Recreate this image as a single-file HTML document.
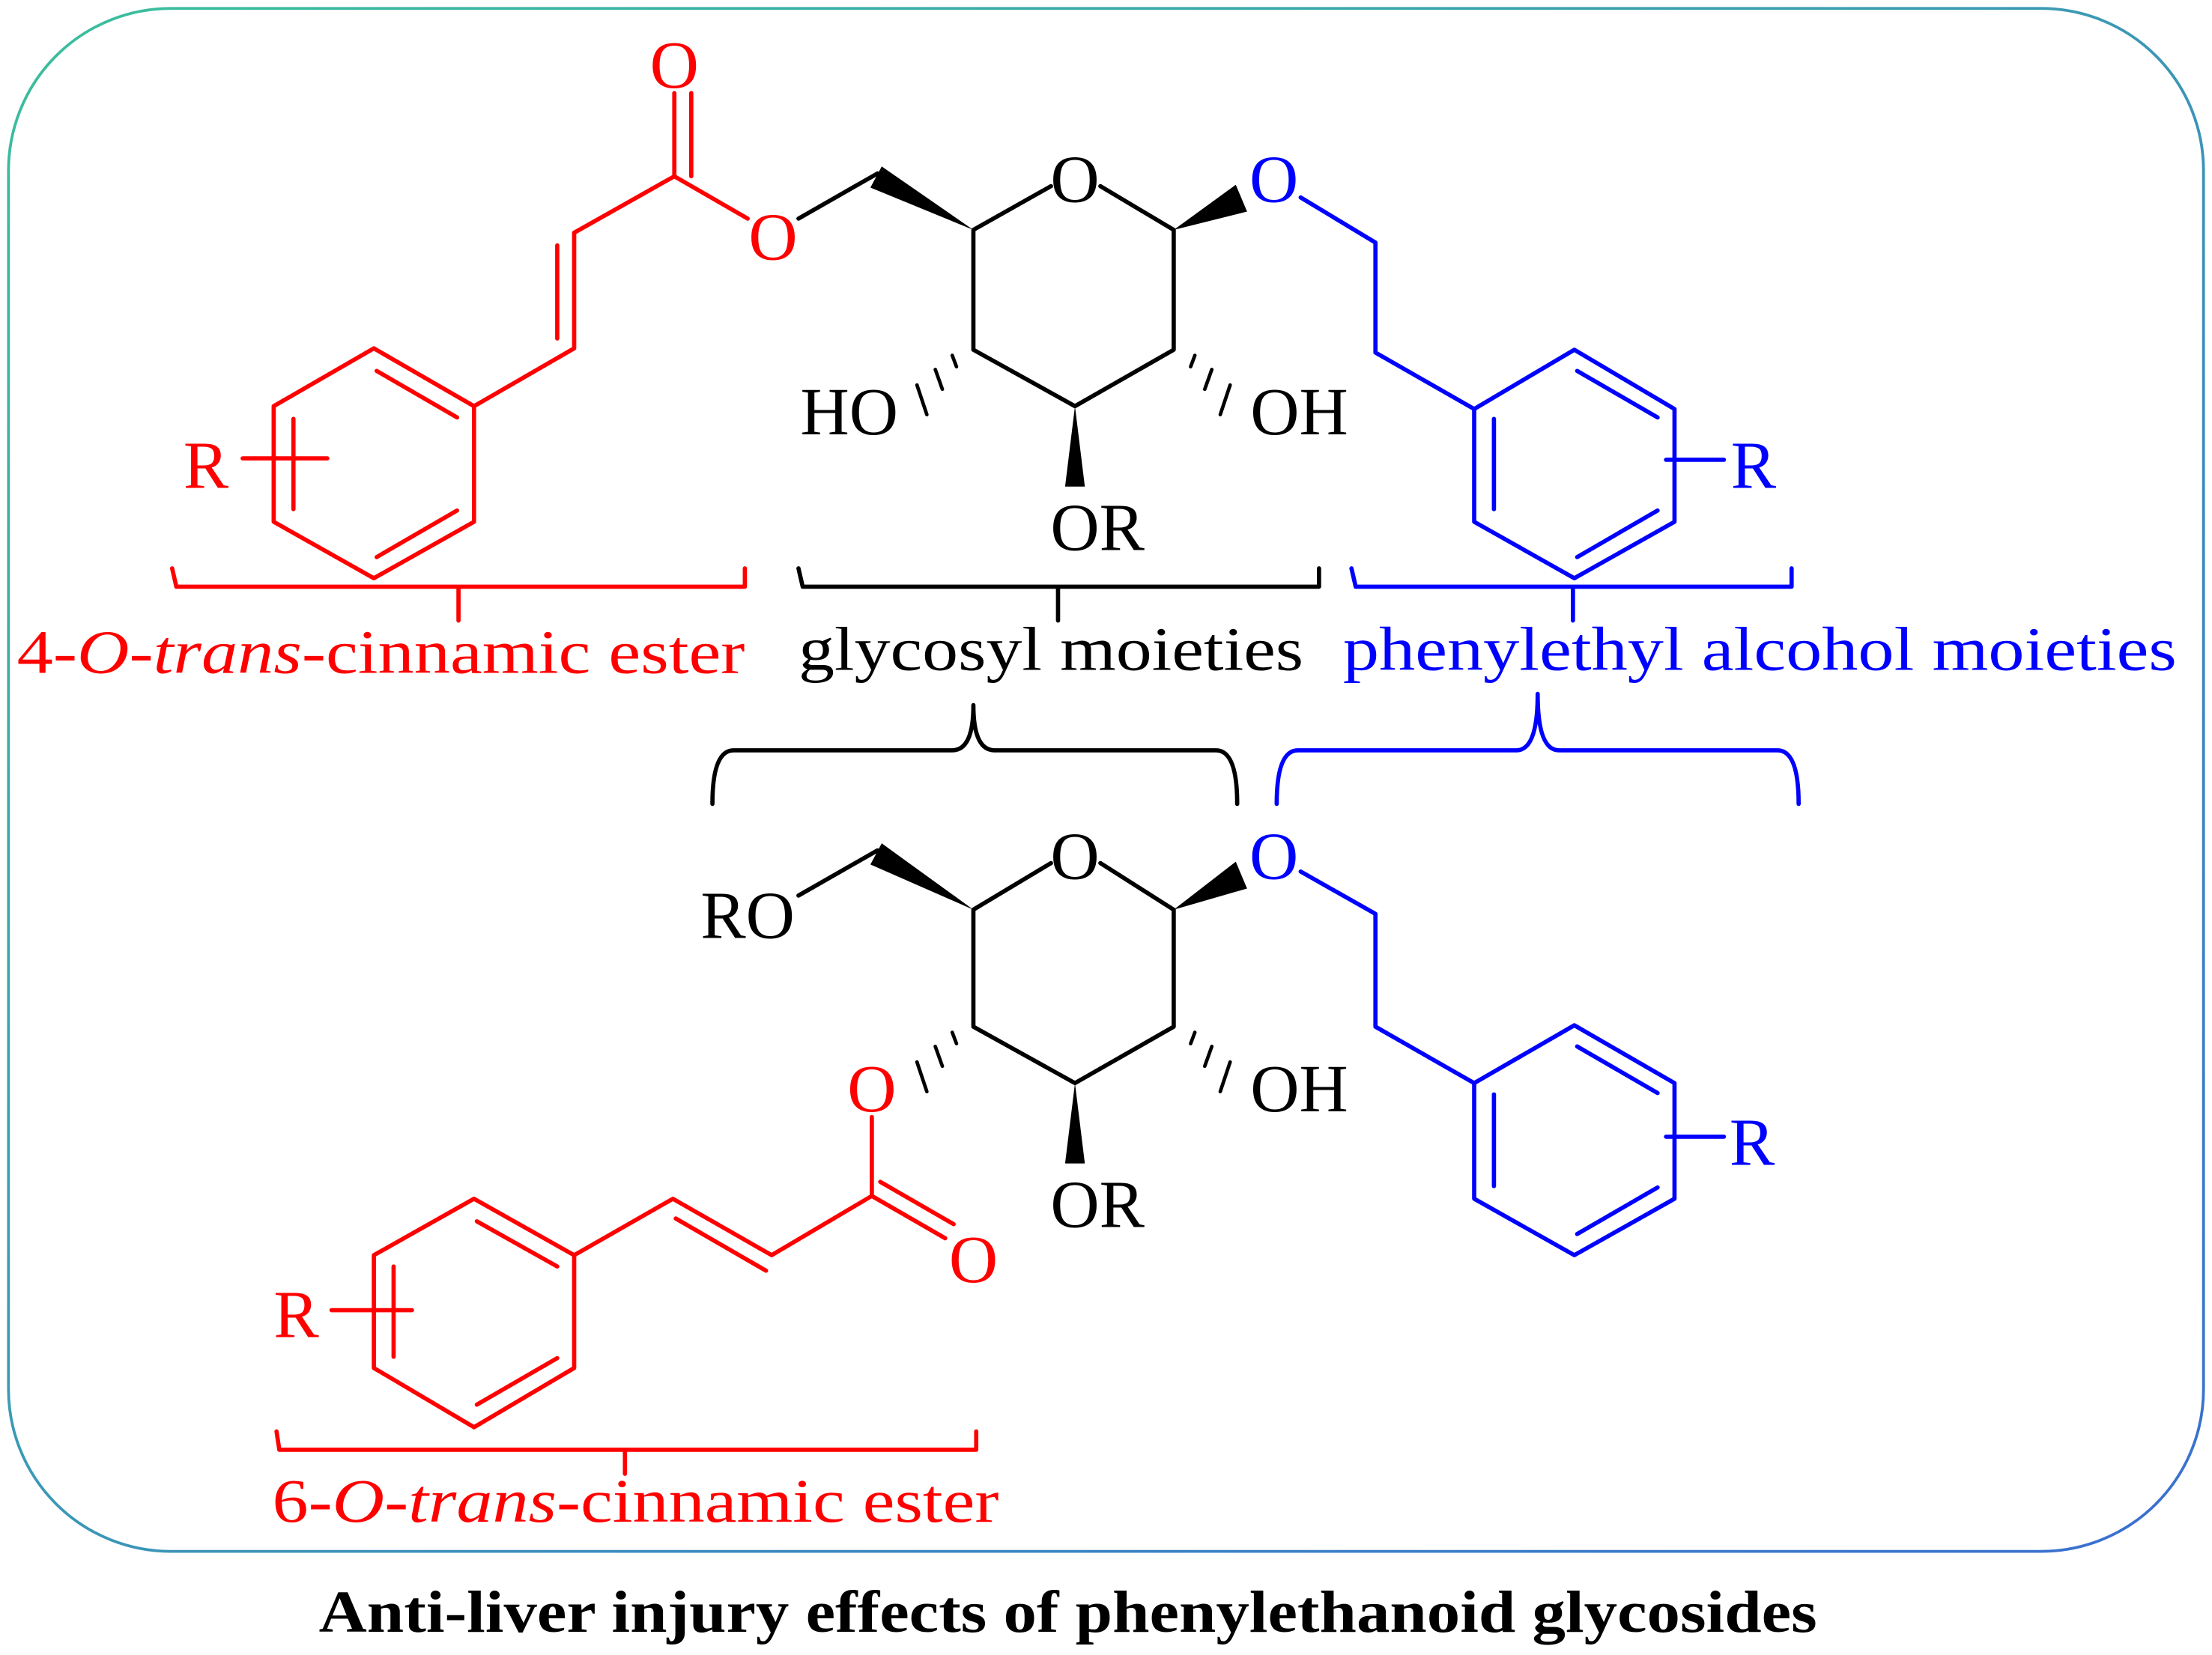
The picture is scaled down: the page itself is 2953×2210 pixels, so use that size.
<!DOCTYPE html>
<html><head><meta charset="utf-8"><style>
html,body{margin:0;padding:0;background:#fff;}
svg{display:block;}
svg text{font-family:"Liberation Serif","Times New Roman",Times,serif;}
</style></head><body>
<svg width="2953" height="2210" viewBox="0 0 1568 1173.5" xmlns="http://www.w3.org/2000/svg" font-family="Liberation Serif, Times New Roman, serif">
<defs>
<linearGradient id="bg" x1="0" y1="0" x2="1" y2="1">
<stop offset="0" stop-color="#3cbf9c"/><stop offset="1" stop-color="#3a6fd0"/>
</linearGradient>
</defs>
<rect x="6" y="6" width="1556" height="1094" rx="115" ry="115" fill="none" stroke="url(#bg)" stroke-width="2"/>

<g stroke-width="3" fill="none" stroke-linecap="round" stroke-linejoin="round">
<g stroke="#f00">
<polygon points="265,247 336,288 336,370 265,410 194,370 194,288"/>
<line x1="267" y1="263" x2="324" y2="296"/>
<line x1="208" y1="297" x2="208" y2="361"/>
<line x1="267" y1="395" x2="324" y2="362"/>
<line x1="172" y1="325" x2="232" y2="325"/>
<polyline points="336,288 407,247 407,165 478,125 530,155"/>
<line x1="395" y1="240" x2="395" y2="174"/>
<line x1="478" y1="125" x2="478" y2="66"/>
<line x1="490" y1="125" x2="490" y2="66"/>
</g>
<g stroke="#000">
<line x1="566" y1="155" x2="622" y2="123"/>
<polyline points="745,132 690,163 690,248 762,288 832,248 832,163 780,132"/>
<g stroke-width="2.5"><line x1="678" y1="260" x2="675" y2="252"/><line x1="668" y1="276" x2="663" y2="262"/><line x1="657" y1="294" x2="650" y2="273"/></g>
<g stroke-width="2.5"><line x1="844" y1="260" x2="847" y2="252"/><line x1="854" y1="276" x2="859" y2="262"/><line x1="865" y1="294" x2="872" y2="273"/></g>
<line x1="566" y1="635" x2="622" y2="603"/>
<polyline points="745,612 690,645 690,728 762,768 832,728 832,645 780,612"/>
<g stroke-width="2.5"><line x1="844" y1="740" x2="847" y2="732"/><line x1="854" y1="756" x2="859" y2="742"/><line x1="865" y1="774" x2="872" y2="753"/></g>
<g stroke-width="2.5"><line x1="678" y1="740" x2="675" y2="732"/><line x1="668" y1="756" x2="663" y2="742"/><line x1="657" y1="774" x2="650" y2="753"/></g>
</g>
<g stroke="#00f">
<polyline points="922,140 975,172 975,250 1045,290"/>
<polygon points="1045,290 1116,248 1187,290 1187,370 1116,410 1045,370"/>
<line x1="1118" y1="263" x2="1175" y2="296"/>
<line x1="1059" y1="297" x2="1059" y2="361"/>
<line x1="1118" y1="395" x2="1175" y2="362"/>
<line x1="1181" y1="326" x2="1222" y2="326"/>
<polyline points="922,618 975,648 975,728 1045,768"/>
<polygon points="1045,768 1116,727 1187,768 1187,850 1116,890 1045,850"/>
<line x1="1118" y1="742" x2="1175" y2="775"/>
<line x1="1059" y1="776" x2="1059" y2="841"/>
<line x1="1118" y1="875" x2="1175" y2="842"/>
<line x1="1181" y1="806" x2="1222" y2="806"/>
</g>
<g stroke="#f00">
<line x1="618" y1="792" x2="618" y2="848"/>
<line x1="618" y1="848" x2="670" y2="878"/>
<line x1="624" y1="838" x2="676" y2="868"/>
<polyline points="618,848 547,890 477,850 407,890"/>
<line x1="479" y1="864" x2="543" y2="901"/>
<polygon points="336,850 407,890 407,970 336,1012 265,970 265,890"/>
<line x1="338" y1="866" x2="395" y2="898"/>
<line x1="279" y1="898" x2="279" y2="962"/>
<line x1="338" y1="996" x2="395" y2="963"/>
<line x1="235" y1="929" x2="292" y2="929"/>
</g>
<path stroke="#f00" d="M122,403 L125,416 L528,416 L528,403 M325,416 L325,440"/>
<path stroke="#000" d="M566,403 L569,416 L935,416 L935,403 M750,416 L750,440"/>
<path stroke="#00f" d="M958,403 L961,416 L1270,416 L1270,403 M1115,416 L1115,440"/>
<path stroke="#000" d="M505,570 Q505,532 520,532 L675,532 Q690,532 690,500 Q690,532 705,532 L862,532 Q877,532 877,570"/>
<path stroke="#00f" d="M905,570 Q905,532 920,532 L1075,532 Q1090,532 1090,492 Q1090,532 1105,532 L1260,532 Q1275,532 1275,570"/>
<path stroke="#f00" d="M196,1015 L198,1028 L692,1028 L692,1015 M443,1028 L443,1045"/>
</g>
<g fill="#000">
<polygon points="625,118 617,133 690,163"/>
<polygon points="832,163 876,131 884,150"/>
<polygon points="762,288 755,345 769,345"/>
<polygon points="625,598 617,613 690,645"/>
<polygon points="832,645 876,611 884,630"/>
<polygon points="762,768 755,825 769,825"/>
</g>

<g font-size="48">
<text x="478" y="62" fill="#f00" text-anchor="middle">O</text>
<text x="548" y="184" fill="#f00" text-anchor="middle">O</text>
<text x="146" y="346" fill="#f00" text-anchor="middle">R</text>
<text x="762" y="143" text-anchor="middle">O</text>
<text x="903" y="143" fill="#00f" text-anchor="middle">O</text>
<text x="602" y="308" text-anchor="middle">HO</text>
<text x="921" y="308" text-anchor="middle">OH</text>
<text x="778" y="390" text-anchor="middle">OR</text>
<text x="1243" y="346" fill="#00f" text-anchor="middle">R</text>
<text x="530" y="665" text-anchor="middle">RO</text>
<text x="762" y="623" text-anchor="middle">O</text>
<text x="903" y="623" fill="#00f" text-anchor="middle">O</text>
<text x="618" y="788" fill="#f00" text-anchor="middle">O</text>
<text x="921" y="788" text-anchor="middle">OH</text>
<text x="778" y="870" text-anchor="middle">OR</text>
<text x="690" y="909" fill="#f00" text-anchor="middle">O</text>
<text x="210" y="948" fill="#f00" text-anchor="middle">R</text>
<text x="1242" y="826" fill="#00f" text-anchor="middle">R</text>
</g>
<g font-size="44">
<text x="12" y="477" fill="#f00" textLength="516" lengthAdjust="spacingAndGlyphs">4-<tspan font-style="italic">O</tspan>-<tspan font-style="italic">trans</tspan>-cinnamic ester</text>
<text x="566" y="475" fill="#000" textLength="358" lengthAdjust="spacingAndGlyphs">glycosyl moieties</text>
<text x="952" y="475" fill="#00f" textLength="591" lengthAdjust="spacingAndGlyphs">phenylethyl alcohol moieties</text>
<text x="193" y="1079" fill="#f00" textLength="515" lengthAdjust="spacingAndGlyphs">6-<tspan font-style="italic">O</tspan>-<tspan font-style="italic">trans</tspan>-cinnamic ester</text>
</g>
<text x="757" y="1157" font-size="42" font-weight="bold" text-anchor="middle" textLength="1062" lengthAdjust="spacingAndGlyphs">Anti-liver injury effects of phenylethanoid glycosides</text>
</svg>
</body></html>
